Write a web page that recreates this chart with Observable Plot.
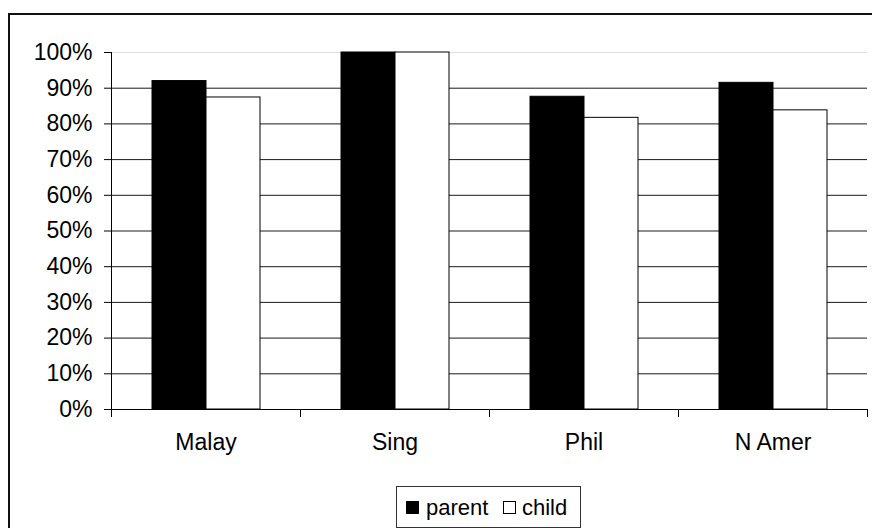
<!DOCTYPE html>
<html>
<head>
<meta charset="utf-8">
<script src="https://cdn.jsdelivr.net/npm/d3@7"></script>
<script src="https://cdn.jsdelivr.net/npm/@observablehq/plot@0.6"></script>
<style>
  html, body { margin: 0; padding: 0; background: #fff; }
  #wrap { position: relative; width: 872px; height: 528px; overflow: hidden; background: #fff;
          font-family: 'Liberation Sans', Arial, sans-serif; }
  #border { position: absolute; left: 8px; top: 13px; width: 1000px; height: 1000px;
            border-top: 2px solid #111; border-left: 2px solid #111; }
  #chart { position: absolute; left: 0; top: 0; }
  #legend { position: absolute; left: 396px; top: 486px; width: 183px; height: 40px;
            border: 1px solid #333; background: #fff; font-size: 22px; color: #000; }
  #legend .sw { position: absolute; width: 13px; height: 13px; box-sizing: border-box; border: 1px solid #000; }
  #legend .lab { position: absolute; line-height: 1; }
</style>
</head>
<body>
<div id="wrap">
  <div id="border"></div>
  <div id="chart"></div>
  <div id="legend"></div>
</div>
<script>
const categories = ["Malay", "Sing", "Phil", "N Amer"];
const series = ["parent", "child"];
const parentValues = [0.92, 1.00, 0.876, 0.915];
const childValues = [0.874, 1.00, 0.817, 0.838];
const yTicks = [0, 0.1, 0.2, 0.3, 0.4, 0.5, 0.6, 0.7, 0.8, 0.9, 1.0];
const seriesColors = ["#000000", "#ffffff"];

const data = [];
categories.forEach((c, i) => {
  data.push({category: c, series: "parent", value: parentValues[i]});
  data.push({category: c, series: "child", value: childValues[i]});
});

const chart = Plot.plot({
  width: 872,
  height: 470,
  marginLeft: 109,
  marginRight: 4,
  marginTop: 52,
  marginBottom: 61,
  style: {fontFamily: "'Liberation Sans', Arial, sans-serif", fontSize: "23px", color: "#000", background: "transparent", overflow: "visible"},
  fx: {domain: categories, padding: 0, label: null, tickSize: 0, tickPadding: 24, axis: "bottom"},
  x: {domain: series, paddingInner: 0, paddingOuter: 0.75, axis: null},
  y: {domain: [0, 1], ticks: yTicks, tickFormat: d => Math.round(d * 100) + "%", tickSize: 7, tickPadding: 12, label: null},
  color: {domain: series, range: seriesColors},
  marks: [
    Plot.ruleY(yTicks.filter(d => d > 0 && d < 1), {stroke: "#1a1a1a", strokeWidth: 1}),
    Plot.ruleY([1], {stroke: "#dedede", strokeWidth: 1}),
    Plot.barY(data, {fx: "category", x: "series", y: "value", fill: "series", stroke: "#000", strokeWidth: 1}),
    Plot.ruleY([0], {stroke: "#000", strokeWidth: 1}),
    Plot.frame({anchor: "left", facetAnchor: "left", insetBottom: -7, stroke: "#000"}),
    Plot.frame({anchor: "right", insetTop: 357, insetBottom: -7, stroke: "#000"})
  ]
});
document.getElementById("chart").appendChild(chart);

// legend
const legend = document.getElementById("legend");
const legendItems = [
  {name: series[0], color: seriesColors[0], sw: 9, text: 29},
  {name: series[1], color: seriesColors[1], sw: 106, text: 125}
];
legendItems.forEach(it => {
  const s = document.createElement("span");
  s.className = "sw";
  s.style.left = it.sw + "px";
  s.style.top = "14px";
  s.style.background = it.color;
  legend.appendChild(s);
  const t = document.createElement("span");
  t.className = "lab";
  t.style.left = it.text + "px";
  t.style.top = "10px";
  t.textContent = it.name;
  legend.appendChild(t);
});
</script>
</body>
</html>
